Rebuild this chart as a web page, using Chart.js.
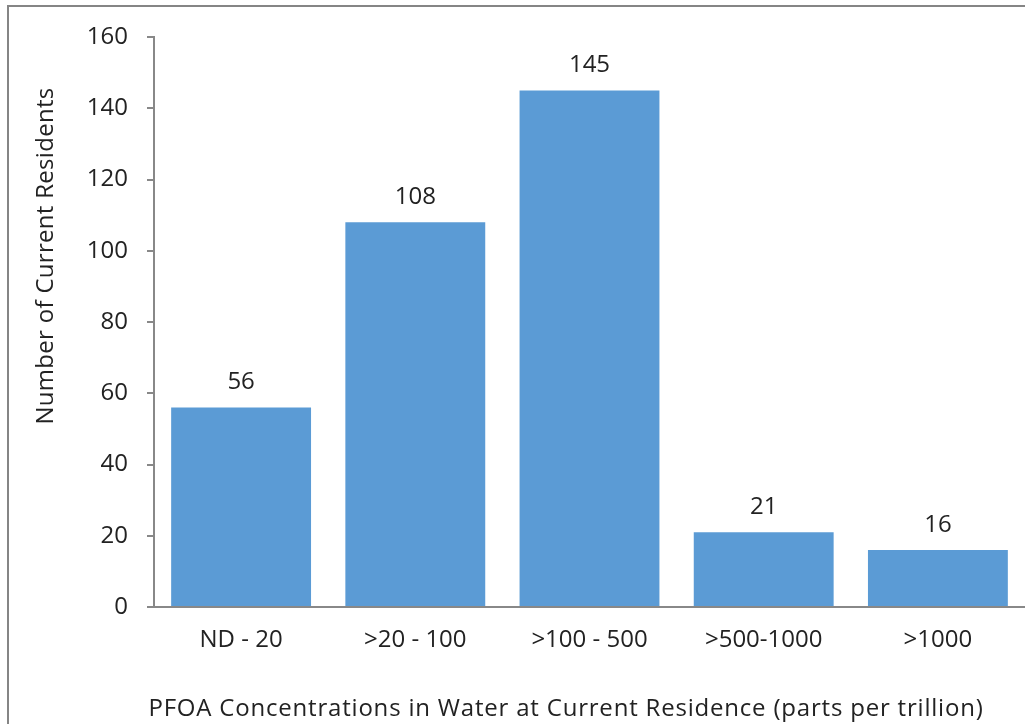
<!DOCTYPE html>
<html>
<head>
<meta charset="utf-8">
<script src="https://cdn.jsdelivr.net/npm/chart.js@4"></script>
<style>
  html, body { margin: 0; padding: 0; background: #fff; overflow: hidden; }
  #frame { position: absolute; left: 7px; top: 5px; width: 1100px; height: 800px;
           border-left: 2px solid #858585; border-top: 2px solid #858585; }
  #wrap { position: absolute; left: 0; top: 0; width: 1025px; height: 724px; }
</style>
</head>
<body>
<div id="frame"></div>
<div id="wrap"><canvas id="c" width="1025" height="724"></canvas></div>
<script>
const categories = ["ND - 20", ">20 - 100", ">100 - 500", ">500-1000", ">1000"];
const residents = [56, 108, 145, 21, 16];
const yTicks = [0, 20, 40, 60, 80, 100, 120, 140, 160];
const yTitle = "Number of Current Residents";
const xTitle = "PFOA Concentrations in Water at Current Residence (parts per trillion)";

const FONT = "'Open Sans', Lato, sans-serif";
const TEXT = "#222222";
const AXIS = "#888888";

const labelsPlugin = {
  id: "valueLabels",
  beforeDraw(chart) {
    chart.ctx.letterSpacing = "0px";
  },
  beforeDatasetsDraw(chart) {
    // spacing used by the x axis labels, which are drawn after the datasets (z: 1)
    chart.ctx.letterSpacing = "1.4px";
  },
  afterDatasetsDraw(chart) {
    const ctx = chart.ctx;
    const meta = chart.getDatasetMeta(0);
    ctx.save();
    ctx.letterSpacing = "0px";
    ctx.font = "24px " + FONT;
    ctx.fillStyle = TEXT;
    ctx.textAlign = "center";
    ctx.textBaseline = "middle";
    meta.data.forEach((bar, i) => {
      ctx.fillText(String(residents[i]), bar.x, bar.y - 25);
    });
    ctx.restore();
  },
  afterDraw(chart) {
    const ctx = chart.ctx;
    ctx.save();
    ctx.font = "24px " + FONT;
    ctx.fillStyle = TEXT;
    ctx.textAlign = "center";
    ctx.textBaseline = "middle";
    ctx.letterSpacing = "0.8px";
    ctx.fillText(xTitle, 566, 709);
    ctx.letterSpacing = "0.3px";
    ctx.translate(46, 256);
    ctx.rotate(-Math.PI / 2);
    ctx.fillText(yTitle, 0, 0);
    ctx.restore();
    ctx.letterSpacing = "0px";
  }
};

new Chart(document.getElementById("c"), {
  type: "bar",
  data: {
    labels: categories,
    datasets: [{
      data: residents,
      backgroundColor: "#5B9BD5",
      borderWidth: 0,
      barPercentage: 0.803,
      categoryPercentage: 1.0
    }]
  },
  options: {
    responsive: false,
    animation: false,
    devicePixelRatio: 1,
    layout: { padding: { left: 0, right: 0, top: 37, bottom: 0 } },
    plugins: { legend: { display: false }, tooltip: { enabled: false }, title: { display: false } },
    scales: {
      x: {
        z: 1,
        grid: { display: false },
        border: { display: true, color: AXIS, width: 2 },
        ticks: { color: TEXT, font: { family: FONT, size: 24 }, padding: 11, maxRotation: 0 },
        afterFit(scale) { scale.height = 117; }
      },
      y: {
        min: 0, max: 160,
        afterBuildTicks(scale) { scale.ticks = yTicks.map(v => ({ value: v })); },
        grid: { drawOnChartArea: false, drawTicks: true, tickLength: 7, color: AXIS, lineWidth: 2 },
        border: { display: true, color: AXIS, width: 2 },
        ticks: { color: TEXT, font: { family: FONT, size: 24 }, padding: 19 },
        afterFit(scale) { scale.width = 154; }
      }
    }
  },
  plugins: [labelsPlugin]
});
</script>
</body>
</html>
